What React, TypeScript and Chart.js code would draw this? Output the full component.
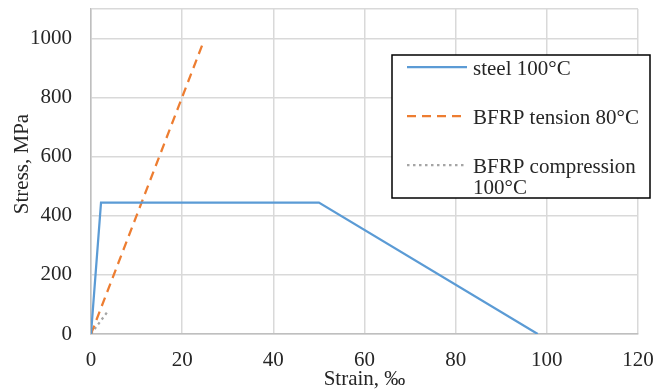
import React, { useEffect, useRef } from "react";
import { Chart, registerables } from "chart.js";

Chart.register(...registerables);

const steelStrain = [0, 2.2, 50, 98];
const steelStress = [0, 445, 445, 0];
const tensionStrain = [0, 24.7];
const tensionStress = [0, 990];
const compStrain = [0, 3.6];
const compStress = [0, 75];

const seriesLabels = ["steel 100°C", "BFRP tension 80°C", ["BFRP compression", "100°C"]];
const seriesColors = ["#5B9BD5", "#ED7D31", "#A5A5A5"];
const seriesDashes = [[], [9, 6], [2.5, 3.5]];

const xTitle = "Strain, ‰";
const yTitle = "Stress, MPa";
const FONT = "'Liberation Serif', 'Times New Roman', serif";
const TEXT = "#262626";

const pts = (xs: number[], ys: number[]) => xs.map((x, i) => ({ x, y: ys[i] }));

const overlayPlugin = {
  id: "overlay",
  afterDraw(chart: any) {
    const ctx = chart.ctx;
    ctx.save();
    // axis titles
    ctx.font = `21px ${FONT}`;
    ctx.fillStyle = TEXT;
    ctx.textAlign = "center";
    ctx.textBaseline = "middle";
    const area = chart.chartArea;
    ctx.fillText(xTitle, (area.left + area.right) / 2, 379);
    ctx.save();
    ctx.translate(22, 164);
    ctx.rotate(-Math.PI / 2);
    ctx.fillText(yTitle, 0, 0);
    ctx.restore();

    // legend
    const left = 392, top = 55, right = 650, bottom = 198;
    ctx.fillStyle = "#ffffff";
    ctx.fillRect(left, top, right - left, bottom - top);
    ctx.strokeStyle = "#000000";
    ctx.lineWidth = 1.5;
    ctx.strokeRect(left, top, right - left, bottom - top);
    const ys = [67, 116, 165];
    ctx.textAlign = "left";
    seriesLabels.forEach((lab, i) => {
      ctx.strokeStyle = seriesColors[i];
      ctx.lineWidth = 2.25;
      ctx.setLineDash(seriesDashes[i]);
      ctx.beginPath();
      ctx.moveTo(407, ys[i]);
      ctx.lineTo(467, ys[i]);
      ctx.stroke();
      ctx.setLineDash([]);
      ctx.fillStyle = TEXT;
      const lines = Array.isArray(lab) ? lab : [lab];
      lines.forEach((t, j) => ctx.fillText(t, 473, ys[i] + 2 + j * 21));
    });
    ctx.restore();
  },
};

export default function App() {
  const ref = useRef<HTMLCanvasElement>(null);
  useEffect(() => {
    document.body.style.margin = "0";
    const chart = new Chart(ref.current!, {
      type: "scatter",
      data: {
        datasets: [
          { data: pts(steelStrain, steelStress), borderColor: seriesColors[0], borderDash: seriesDashes[0] },
          { data: pts(tensionStrain, tensionStress), borderColor: seriesColors[1], borderDash: seriesDashes[1] },
          { data: pts(compStrain, compStress), borderColor: seriesColors[2], borderDash: seriesDashes[2] },
        ].map((d) => ({ ...d, showLine: true, borderWidth: 2.25, pointRadius: 0, fill: false, tension: 0 })),
      },
      options: {
        animation: false,
        responsive: false,
        layout: { padding: { top: 9, right: 18, left: 0, bottom: 0 } },
        plugins: { legend: { display: false }, tooltip: { enabled: false } },
        scales: {
          x: {
            type: "linear",
            min: 0,
            max: 120,
            ticks: { stepSize: 20, color: TEXT, font: { family: FONT, size: 21 }, padding: 14 },
            grid: { color: "#d9d9d9", lineWidth: 1.5, drawTicks: false },
            border: { color: "#bfbfbf", width: 1.5 },
            title: { display: false },
            afterFit: (s: any) => { s.height = 57; s.paddingLeft = 0; s.paddingRight = 0; },
          },
          y: {
            type: "linear",
            min: 0,
            max: 1100,
            ticks: {
              stepSize: 200,
              color: TEXT,
              font: { family: FONT, size: 21 },
              padding: 19,
              callback: (v: any) => (Number(v) % 200 === 0 ? String(v) : ""),
            },
            grid: { color: "#d9d9d9", lineWidth: 1.5, drawTicks: false },
            border: { color: "#bfbfbf", width: 1.5 },
            title: { display: false },
            afterFit: (s: any) => { s.width = 91; s.paddingTop = 0; s.paddingBottom = 0; },
          },
        },
      },
      plugins: [overlayPlugin],
    } as any);
    return () => chart.destroy();
  }, []);
  return (
    <div style={{ width: 656, height: 391 }}>
      <canvas ref={ref} width={656} height={391} />
    </div>
  );
}
